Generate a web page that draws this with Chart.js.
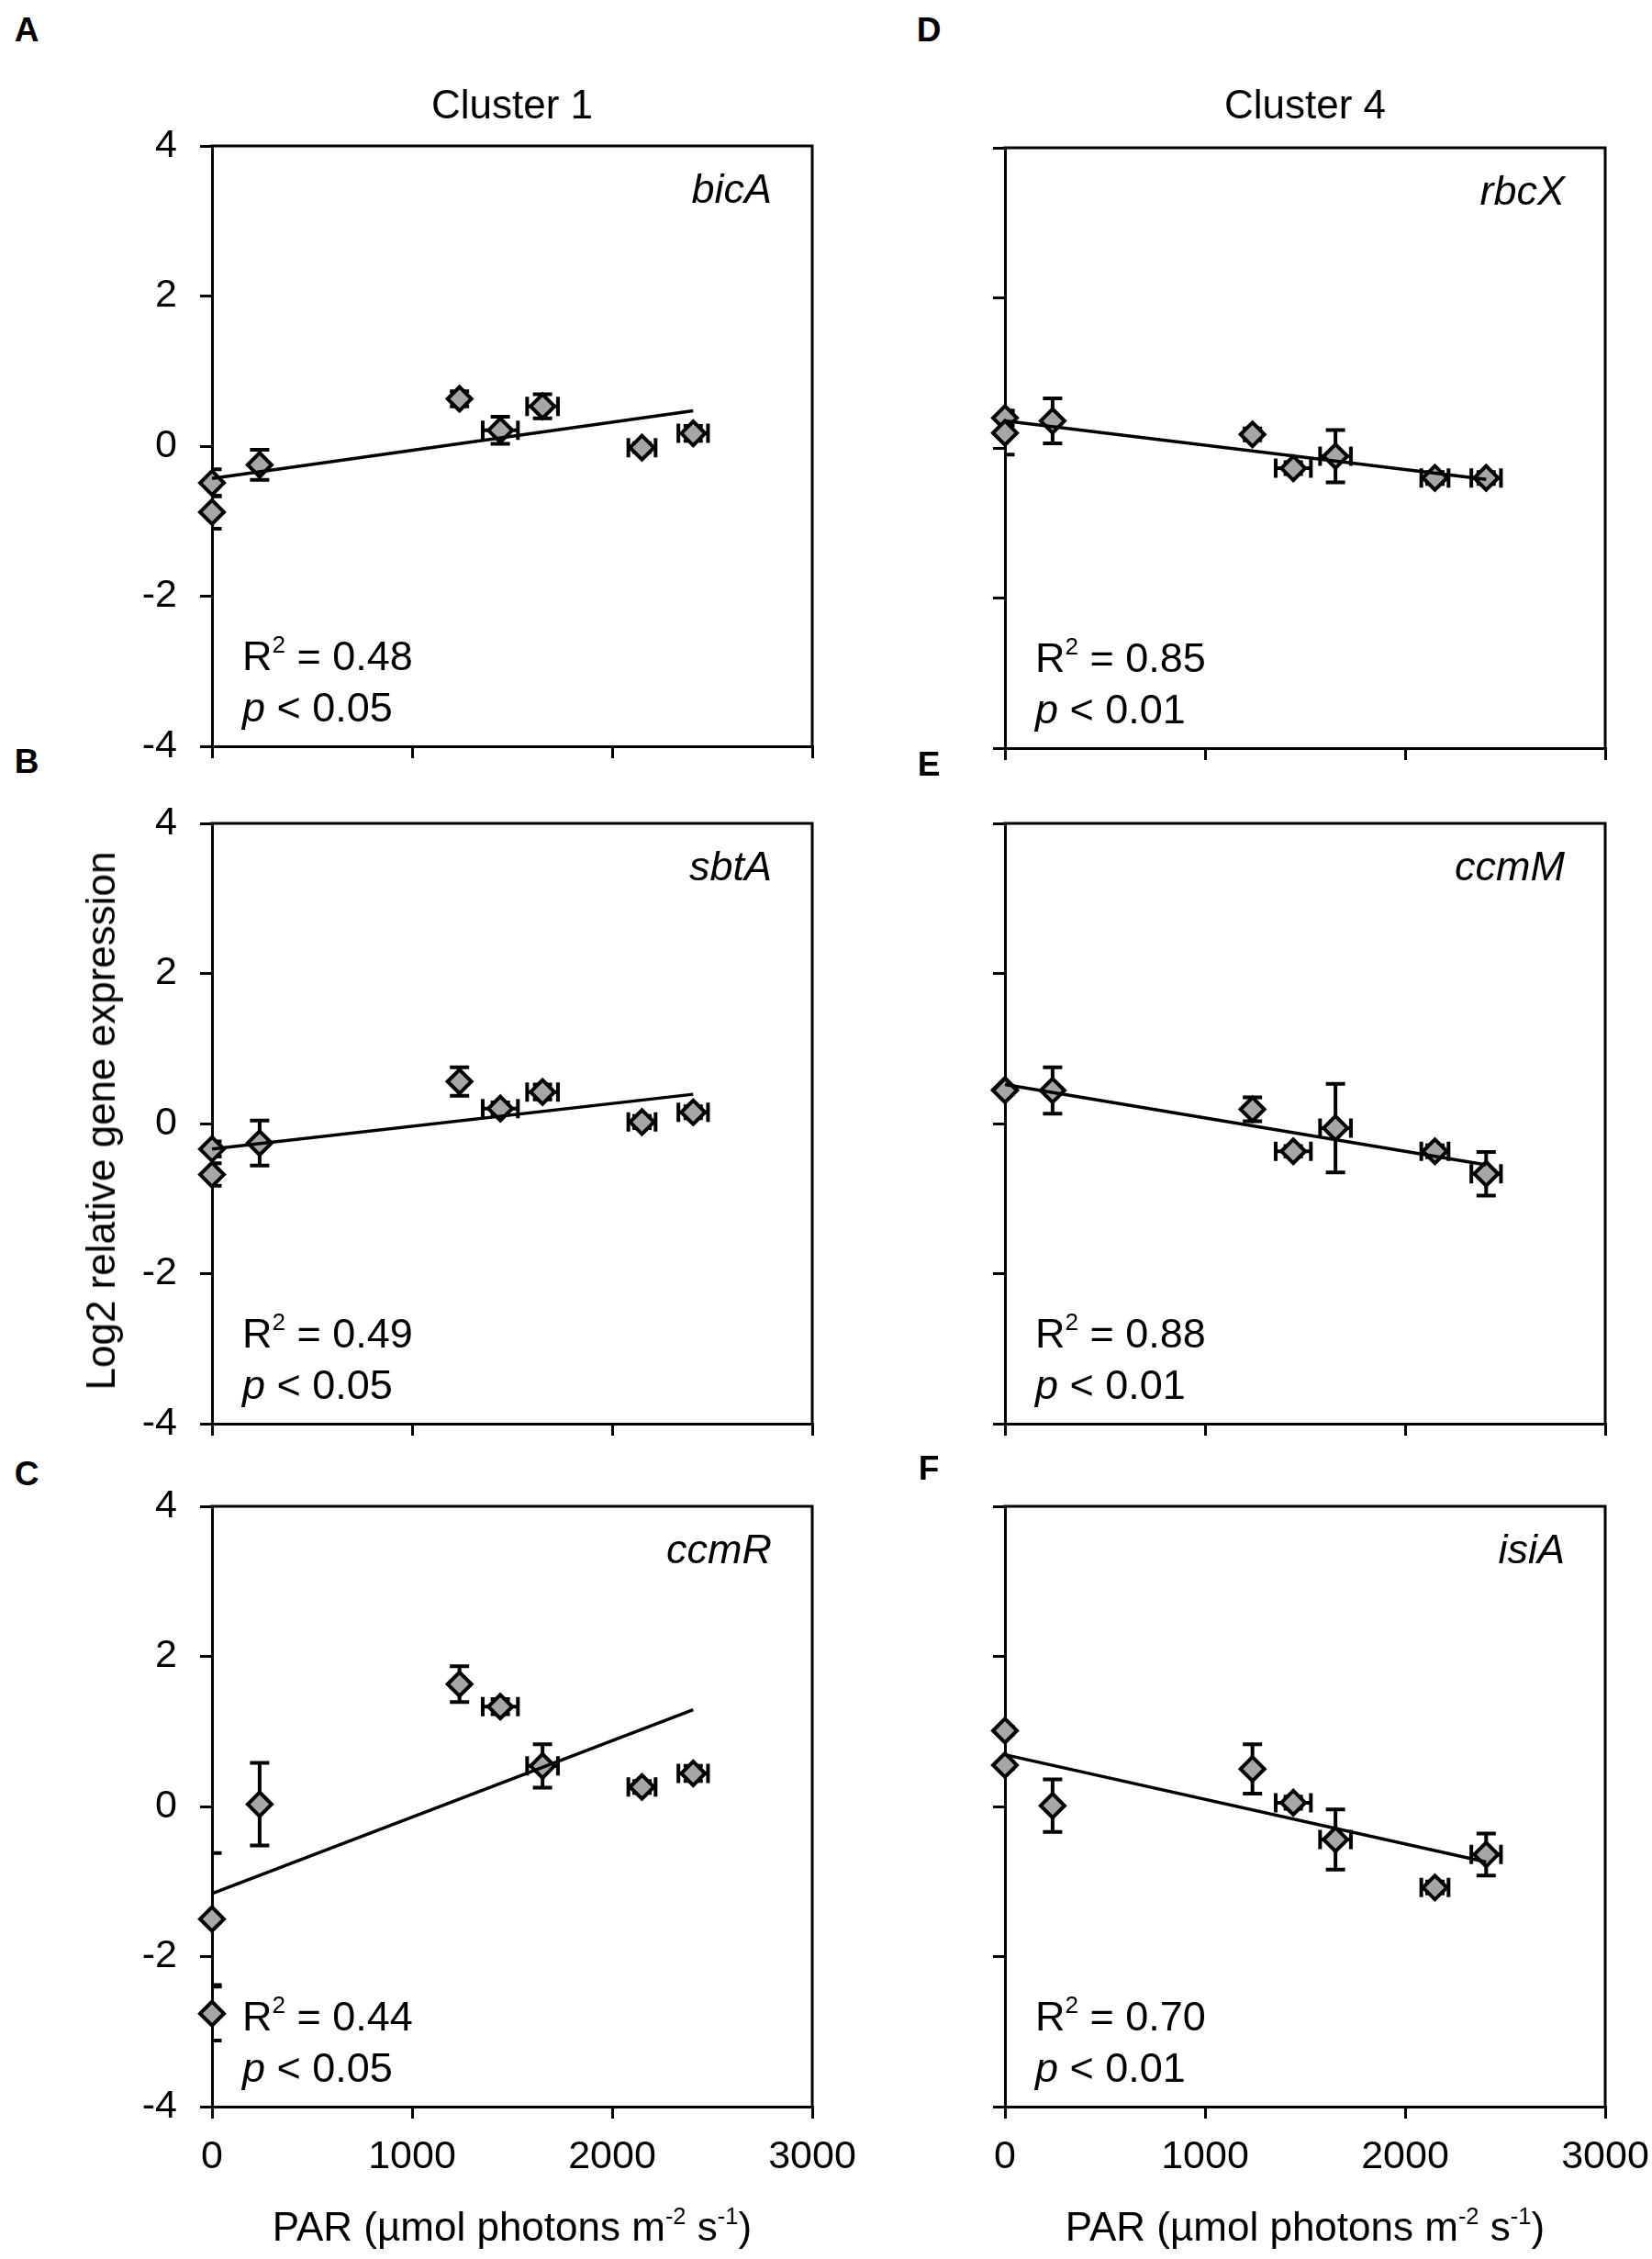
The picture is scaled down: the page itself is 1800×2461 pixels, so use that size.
<!DOCTYPE html>
<html>
<head>
<meta charset="utf-8">
<script src="https://cdn.jsdelivr.net/npm/chart.js@4.4.1/dist/chart.umd.min.js"></script>
<style>
  body { margin: 0; background: #fff; }
  #page { position: relative; width: 1800px; height: 2461px; overflow: hidden;
          font-family: "Liberation Sans", Arial, sans-serif; color: #000; }
  canvas { position: absolute; }
  .txt { position: absolute; white-space: nowrap; line-height: 1; font-size: 44px; }
  .letter { font-weight: bold; font-size: 37px; transform: translate(-50%, -50%); }
  .center { transform: translate(-50%, -50%); }
  .gene { font-style: italic; font-size: 45px; transform: translate(-100%, -50%); }
  .stat { font-size: 45px; transform: translate(0, -50%); }
  sup { font-size: 0.58em; line-height: 0; vertical-align: 0.72em; }
</style>
</head>
<body>
<div id="page"></div>
<script>
// PAR light levels shared by every gene
const parValues = [0, 0, 238, 1237, 1441, 1652, 2149, 2405];
const parErrors = [0, 0, 0, 0, 88, 77, 68, 74];

// log2 relative expression, mean and error per gene
const bicA = [-0.49, -0.88, -0.25, 0.63, 0.21, 0.53, -0.02, 0.17];
const bicAErr = [0.18, 0.22, 0.2, 0.1, 0.18, 0.16, 0.06, 0.1];
const sbtA = [-0.34, -0.68, -0.26, 0.56, 0.2, 0.42, 0.02, 0.15];
const sbtAErr = [0.1, 0.15, 0.3, 0.19, 0.08, 0.1, 0.08, 0.08];
const ccmR = [-1.5, -2.76, 0.03, 1.63, 1.33, 0.54, 0.26, 0.44];
const ccmRErr = [0.88, 0.36, 0.55, 0.24, 0.1, 0.29, 0.08, 0.1];
const rbcX = [0.4, 0.2, 0.36, 0.18, -0.27, -0.11, -0.4, -0.4];
const rbcXErr = [0.1, 0.29, 0.3, 0.08, 0.08, 0.35, 0.08, 0.08];
const ccmM = [0.45, 0.44, 0.44, 0.19, -0.37, -0.06, -0.37, -0.67];
const ccmMErr = [0.05, 0.05, 0.31, 0.16, 0.07, 0.59, 0.08, 0.29];
const isiA = [1.01, 0.55, 0.01, 0.5, 0.05, -0.44, -1.08, -0.64];
const isiAErr = [0.05, 0.05, 0.35, 0.33, 0.08, 0.4, 0.08, 0.28];

// linear trend line ends
const trendX = [0, 2405];
const bicATrend = [-0.43, 0.47];
const sbtATrend = [-0.34, 0.39];
const ccmRTrend = [-1.16, 1.29];
const rbcXTrend = [0.36, -0.42];
const ccmMTrend = [0.52, -0.55];
const isiATrend = [0.69, -0.74];

// axis ticks
const yTicks = [-4, -2, 0, 2, 4];
const xTicks = [0, 1000, 2000, 3000];

// one entry per panel
const panels = [
  { letter: "A", gene: "bicA", y: bicA, err: bicAErr, trend: bicATrend, r2: "0.48", p: "0.05", left: 231, top: 159, yLabels: true, xLabels: false },
  { letter: "B", gene: "sbtA", y: sbtA, err: sbtAErr, trend: sbtATrend, r2: "0.49", p: "0.05", left: 231, top: 897, yLabels: true, xLabels: false },
  { letter: "C", gene: "ccmR", y: ccmR, err: ccmRErr, trend: ccmRTrend, r2: "0.44", p: "0.05", left: 231, top: 1641, yLabels: true, xLabels: true },
  { letter: "D", gene: "rbcX", y: rbcX, err: rbcXErr, trend: rbcXTrend, r2: "0.85", p: "0.01", left: 1095, top: 161, yLabels: false, xLabels: false },
  { letter: "E", gene: "ccmM", y: ccmM, err: ccmMErr, trend: ccmMTrend, r2: "0.88", p: "0.01", left: 1095, top: 897, yLabels: false, xLabels: false },
  { letter: "F", gene: "isiA", y: isiA, err: isiAErr, trend: isiATrend, r2: "0.70", p: "0.01", left: 1095, top: 1641, yLabels: false, xLabels: true }
];

const letterPos = { A: [29, 32], B: [29, 829], C: [29, 1605], D: [1012, 32], E: [1012, 832], F: [1012, 1599] };

const PLOT = 654;     // plot box size
const Y_AXIS_W = 130;
const PAD_TOP = 30;
const PAD_RIGHT = 60;

const page = document.getElementById("page");

function addText(cls, html, x, y, extra) {
  const d = document.createElement("div");
  d.className = "txt " + cls;
  d.innerHTML = html;
  d.style.left = x + "px";
  d.style.top = y + "px";
  if (extra) Object.assign(d.style, extra);
  page.appendChild(d);
  return d;
}

// draws vertical and horizontal error bars under the diamonds,
// clipped to the plot box like the original
const errorBarPlugin = {
  id: "errorBars",
  beforeDatasetsDraw(chart, args, opts) {
    const ctx = chart.ctx;
    const a = chart.chartArea;
    const xs = chart.scales.x;
    const ys = chart.scales.y;
    const cap = 10.5;
    ctx.save();
    ctx.beginPath();
    ctx.rect(a.left, a.top, a.right - a.left, a.bottom - a.top);
    ctx.clip();
    ctx.strokeStyle = "#000";
    ctx.lineWidth = 4;
    opts.ys.forEach((v, i) => {
      const px = xs.getPixelForValue(opts.xs[i]);
      const py = ys.getPixelForValue(v);
      const ye = opts.yErr[i];
      const xe = opts.xErr[i];
      ctx.beginPath();
      if (ye > 0) {
        const t = ys.getPixelForValue(v + ye);
        const b = ys.getPixelForValue(v - ye);
        ctx.moveTo(px, t); ctx.lineTo(px, b);
        ctx.moveTo(px - cap, t); ctx.lineTo(px + cap, t);
        ctx.moveTo(px - cap, b); ctx.lineTo(px + cap, b);
      }
      if (xe > 0) {
        const l = xs.getPixelForValue(opts.xs[i] - xe);
        const r = xs.getPixelForValue(opts.xs[i] + xe);
        ctx.moveTo(l, py); ctx.lineTo(r, py);
        ctx.moveTo(l, py - cap); ctx.lineTo(l, py + cap);
        ctx.moveTo(r, py - cap); ctx.lineTo(r, py + cap);
      }
      ctx.stroke();
    });
    ctx.restore();
  }
};

// closes the plot box on top and right
const framePlugin = {
  id: "frame",
  afterDraw(chart) {
    const a = chart.chartArea;
    const ctx = chart.ctx;
    ctx.save();
    ctx.strokeStyle = "#000";
    ctx.lineWidth = 3;
    ctx.beginPath();
    ctx.moveTo(a.left - 1.5, a.top);
    ctx.lineTo(a.right, a.top);
    ctx.lineTo(a.right, a.bottom + 1.5);
    ctx.stroke();
    ctx.restore();
  }
};

function axisStyle() {
  return {
    grid: { drawOnChartArea: false, drawTicks: true, tickLength: 13, color: "#000", tickColor: "#000", lineWidth: 3, tickWidth: 3 },
    border: { display: true, color: "#000", width: 3 }
  };
}

function makePanel(p) {
  const xH = p.xLabels ? 110 : 30;
  const canvas = document.createElement("canvas");
  const w = Y_AXIS_W + PLOT + PAD_RIGHT;
  const h = PAD_TOP + PLOT + xH;
  canvas.width = w;
  canvas.height = h;
  canvas.style.width = w + "px";
  canvas.style.height = h + "px";
  canvas.style.left = (p.left - Y_AXIS_W) + "px";
  canvas.style.top = (p.top - PAD_TOP) + "px";
  page.appendChild(canvas);

  const points = parValues.map((x, i) => ({ x: x, y: p.y[i] }));
  const line = trendX.map((x, i) => ({ x: x, y: p.trend[i] }));

  new Chart(canvas, {
    type: "scatter",
    data: {
      datasets: [
        {
          type: "line",
          data: line,
          borderColor: "#000",
          borderWidth: 3.5,
          pointRadius: 0,
          clip: false,
          order: 0
        },
        {
          data: points,
          pointStyle: "rectRot",
          pointRadius: 13,
          backgroundColor: "#a6a6a6",
          borderColor: "#000",
          borderWidth: 4,
          clip: false,
          order: 1
        }
      ]
    },
    options: {
      responsive: false,
      animation: false,
      devicePixelRatio: 1,
      layout: { padding: { top: PAD_TOP, right: PAD_RIGHT, left: 0, bottom: 0 } },
      plugins: {
        legend: { display: false },
        tooltip: { enabled: false },
        errorBars: { xs: parValues, xErr: parErrors, ys: p.y, yErr: p.err }
      },
      scales: {
        x: {
          type: "linear",
          min: 0,
          max: 3000,
          afterBuildTicks: s => { s.ticks = xTicks.map(v => ({ value: v })); },
          afterFit: s => { s.height = xH; s.paddingLeft = 0; s.paddingRight = 0; },
          ticks: { display: p.xLabels, color: "#000", font: { family: "Liberation Sans", size: 43 }, padding: 16, maxRotation: 0, callback: v => String(v) },
          ...axisStyle()
        },
        y: {
          type: "linear",
          min: -4,
          max: 4,
          afterBuildTicks: s => { s.ticks = yTicks.map(v => ({ value: v })); },
          afterFit: s => { s.width = Y_AXIS_W; s.paddingTop = 0; s.paddingBottom = 0; },
          ticks: { display: p.yLabels, color: "#000", font: { family: "Liberation Sans", size: 43 }, padding: 25, callback: v => String(v) },
          ...axisStyle()
        }
      }
    },
    plugins: [errorBarPlugin, framePlugin]
  });

  // text inside and around the panel
  const right = p.left + PLOT;
  const bottom = p.top + PLOT;
  addText("gene", p.gene, right - 44, p.top + 46);
  addText("stat", "R<sup>2</sup> = " + p.r2, p.left + 33, bottom - 99);
  addText("stat", "<i>p</i> &lt; " + p.p, p.left + 33, bottom - 43);
  const lp = letterPos[p.letter];
  addText("letter", p.letter, lp[0], lp[1]);
}

panels.forEach(makePanel);

// shared titles
addText("center", "Cluster 1", 558, 114);
addText("center", "Cluster 4", 1422, 114);
addText("center", "Log2 relative gene expression", 110, 1221, { transform: "translate(-50%, -50%) rotate(-90deg)" });
addText("center", "PAR (µmol photons m<sup>-2</sup> s<sup>-1</sup>)", 558, 2426);
addText("center", "PAR (µmol photons m<sup>-2</sup> s<sup>-1</sup>)", 1422, 2426);
</script>
</body>
</html>
